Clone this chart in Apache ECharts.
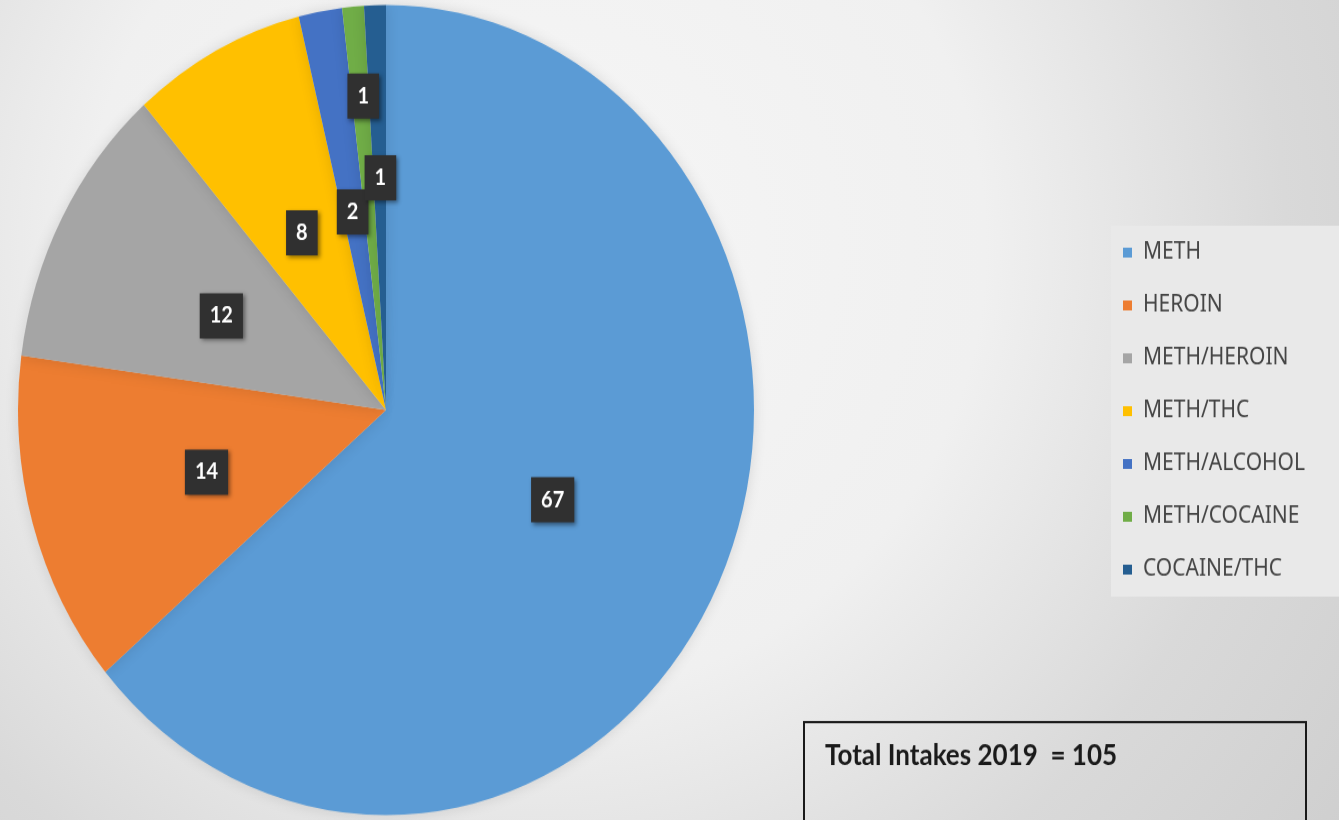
<!DOCTYPE html>
<html>
<head>
<meta charset="utf-8">
<script src="https://cdn.jsdelivr.net/npm/echarts@6/dist/echarts.min.js"></script>
<style>
  html, body {
    margin: 0;
    padding: 0;
    width: 1339px;
    height: 820px;
    overflow: hidden;
    background: radial-gradient(circle at 40% 30%, #f6f6f6 0px, #f0f0f0 450px, #d9d9d9 750px, #cdcdcd 1050px);
  }
  /* the source picture is stretched vertically, so the chart is too */
  #chart {
    width: 1339px;
    height: 745px;
    transform: scaleY(1.1007);
    transform-origin: 0 0;
  }
</style>
</head>
<body>
<div id="chart"></div>
<script>
var categories = ['METH', 'HEROIN', 'METH/HEROIN', 'METH/THC', 'METH/ALCOHOL', 'METH/COCAINE', 'COCAINE/THC'];
var intakes = [67, 14, 12, 8, 2, 1, 1];
var colors = ['#5b9bd5', '#ed7d31', '#a5a5a5', '#ffc000', '#4472c4', '#70ad47', '#255e91'];
var totalText = 'Total Intakes 2019  = 105';

// label nudges for the thin slices (like Excel moves them apart)
var labelShift = [[-3, 3], [0, 4], [0, 3], [2, 5], [0, 4], [-6, -99], [0, -24]];

var chart = echarts.init(document.getElementById('chart'));

var pieData = categories.map(function (name, i) {
  return { name: name, value: intakes[i], itemStyle: { color: colors[i] } };
});

chart.setOption({
  backgroundColor: 'transparent',
  animation: false,
  legend: {
    orient: 'vertical',
    left: 1111,
    top: 205,
    width: 228,
    padding: [14, 60, 14, 12],
    backgroundColor: '#e9e9e9',
    icon: 'rect',
    itemWidth: 9,
    itemHeight: 9,
    itemGap: 27,
    textStyle: {
      fontFamily: 'Noto Sans',
      fontSize: 21,
      color: '#454545',
      padding: [0, 0, 0, 6]
    },
    data: categories
  },
  series: [
    {
      type: 'pie',
      center: [386, 372.5],
      radius: [0, 368],
      startAngle: 90,
      clockwise: true,
      data: pieData,
      itemStyle: {
        shadowColor: 'rgba(0,0,0,0.12)',
        shadowBlur: 14
      },
      label: {
        show: true,
        position: 'inside',
        formatter: '{c}',
        color: '#ffffff',
        fontFamily: 'Lato',
        fontWeight: 'bold',
        fontSize: 20,
        backgroundColor: '#303030',
        padding: [11, 10, 10, 10],
        shadowColor: 'rgba(0,0,0,0.45)',
        shadowBlur: 4,
        shadowOffsetX: 2,
        shadowOffsetY: 2
      },
      labelLine: { show: false },
      labelLayout: function (params) {
        var s = labelShift[params.dataIndex];
        return { dx: s[0], dy: s[1] };
      },
      emphasis: { disabled: true }
    }
  ],
  graphic: [
    {
      type: 'rect',
      shape: { x: 804, y: 656, width: 502, height: 120 },
      style: { fill: 'transparent', stroke: '#1a1a1a', lineWidth: 2 }
    },
    {
      type: 'text',
      x: 825,
      y: 687,
      style: {
        text: totalText,
        fill: '#1a1a1a',
        font: 'bold 26px Lato',
        verticalAlign: 'middle'
      }
    }
  ]
});
</script>
</body>
</html>
